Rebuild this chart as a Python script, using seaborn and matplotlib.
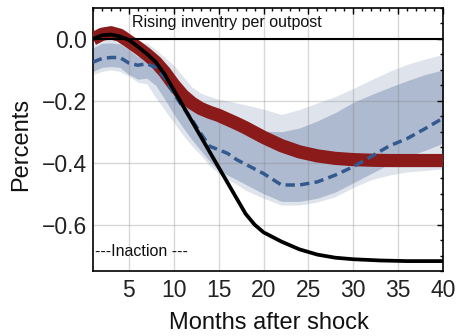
import matplotlib
matplotlib.use("Agg")
import matplotlib.pyplot as plt
import seaborn as sns
from matplotlib.ticker import MultipleLocator, FuncFormatter

# ---- data ----
months = [1, 2, 3, 4, 5, 6, 7, 8, 9, 10, 11, 12, 13, 14, 15, 16, 17, 18,
          20, 22, 24, 26, 28, 30, 32, 34, 36, 38, 40]

light_hi = [-0.013, -0.005, 0.0, -0.005, -0.013, -0.013, -0.013, -0.035, -0.06, -0.085,
            -0.12, -0.155, -0.175, -0.186, -0.195, -0.2, -0.207, -0.213,
            -0.227, -0.244, -0.228, -0.207, -0.186, -0.16, -0.132, -0.105, -0.082, -0.065, -0.05]
dark_hi = [-0.029, -0.014, -0.013, -0.016, -0.035, -0.058, -0.062, -0.075, -0.10, -0.13,
           -0.165, -0.195, -0.215, -0.23, -0.245, -0.255, -0.265, -0.28,
           -0.298, -0.30, -0.288, -0.265, -0.238, -0.205, -0.18, -0.157, -0.135, -0.115, -0.10]
irf_mid = [-0.075, -0.063, -0.06, -0.06, -0.078, -0.085, -0.08, -0.092, -0.125, -0.176,
           -0.22, -0.26, -0.305, -0.347, -0.358, -0.37, -0.39, -0.405,
           -0.435, -0.472, -0.472, -0.462, -0.44, -0.413, -0.38, -0.346, -0.322, -0.29, -0.256]
dark_lo = [-0.105, -0.092, -0.089, -0.092, -0.115, -0.13, -0.127, -0.15, -0.195, -0.243,
           -0.285, -0.325, -0.36, -0.395, -0.425, -0.44, -0.455, -0.47,
           -0.50, -0.525, -0.525, -0.515, -0.495, -0.465, -0.435, -0.405, -0.38, -0.36, -0.337]
light_lo = [-0.115, -0.105, -0.10, -0.105, -0.12, -0.14, -0.145, -0.19, -0.23, -0.27,
            -0.31, -0.345, -0.375, -0.41, -0.435, -0.455, -0.47, -0.489,
            -0.515, -0.537, -0.537, -0.527, -0.51, -0.48, -0.455, -0.44, -0.43, -0.425, -0.42]
model_red = [0.0, 0.015, 0.02, 0.012, -0.008, -0.028, -0.05, -0.075, -0.108, -0.148,
             -0.182, -0.207, -0.225, -0.237, -0.247, -0.26, -0.273, -0.287,
             -0.318, -0.345, -0.365, -0.378, -0.386, -0.39, -0.392, -0.393, -0.393, -0.393, -0.393]

months_k = [1, 2, 3, 4, 5, 6, 7, 8, 9, 10, 11, 12, 13, 14, 15, 16, 17, 18, 19, 20,
            22, 24, 26, 28, 30, 33, 36, 40]
inaction = [0.0, 0.012, 0.014, 0.008, -0.003, -0.025, -0.048, -0.075, -0.115, -0.165,
            -0.215, -0.265, -0.315, -0.365, -0.415, -0.465, -0.515, -0.565, -0.60, -0.625,
            -0.655, -0.68, -0.697, -0.707, -0.712, -0.716, -0.718, -0.718]

x_ticks = [5, 10, 15, 20, 25, 30, 35, 40]
y_ticks = [0.0, -0.2, -0.4, -0.6]
title_text = "Rising inventry per outpost"
bottom_text = "---Inaction ---"
x_label = "Months after shock"
y_label = "Percents"

# ---- style ----
sns.set_theme(style="white")
plt.rcParams['font.family'] = ['Liberation Sans', 'DejaVu Sans']

fig = plt.figure(figsize=(4.59, 3.36), dpi=100)
ax = fig.add_axes([93 / 459, 1 - 271 / 336, (443 - 93) / 459, (271 - 8) / 336])

ax.fill_between(months, light_lo, light_hi, color='#dfe4ec', lw=0, zorder=1)
ax.fill_between(months, dark_lo, dark_hi, color='#aebacf', lw=0, zorder=1.1)

sns.lineplot(x=months, y=model_red, color='#8b1a1a', lw=9.5, ax=ax, zorder=3,
             estimator=None, sort=False, solid_capstyle='butt')
sns.lineplot(x=months, y=irf_mid, color='#34598f', lw=2.5, ax=ax, zorder=3.5,
             estimator=None, sort=False, linestyle=(0, (2.7, 1.5)))
ax.axhline(0, color='black', lw=1.5, zorder=4)
sns.lineplot(x=months_k, y=inaction, color='black', lw=2.7, ax=ax, zorder=5,
             estimator=None, sort=False)

ax.set_xlim(1, 40)
ax.set_ylim(-0.75, 0.1)
ax.set_xticks(x_ticks)
ax.set_yticks(y_ticks)
ax.xaxis.set_minor_locator(MultipleLocator(1))
ax.yaxis.set_minor_locator(MultipleLocator(0.05))


def fmt(v, _):
    if abs(v) < 1e-9:
        v = 0.0
    return f"{v:.1f}".replace('-', '\u2212')


ax.yaxis.set_major_formatter(FuncFormatter(fmt))

ax.tick_params(which='both', direction='in', top=True, right=True, color='black', width=1)
ax.tick_params(which='major', length=4.5, labelsize=16.5, labelcolor='#222222')
ax.tick_params(axis='x', which='major', pad=6)
ax.tick_params(axis='y', which='major', pad=4)
ax.tick_params(which='minor', length=2.5)

ax.grid(True, which='major', color='#808080', alpha=0.3, lw=1.0)
ax.set_axisbelow('line')
for s in ax.spines.values():
    s.set_visible(True)
    s.set_color('black')
    s.set_linewidth(1.2)

ax.text(5.4, 0.054, title_text, fontsize=11.5, va='center', ha='left', zorder=6, color='#111111')
ax.text(1.2, -0.688, bottom_text, fontsize=11.5, va='center', ha='left', zorder=6, color='#111111')

ax.set_xlabel(x_label, fontsize=17, color='#111111')
ax.set_ylabel(y_label, fontsize=17, color='#111111')
ax.xaxis.set_label_coords(0.503, -0.155)
ax.yaxis.set_label_coords(-0.175, 0.48)

fig.savefig("out.png", dpi=100)
